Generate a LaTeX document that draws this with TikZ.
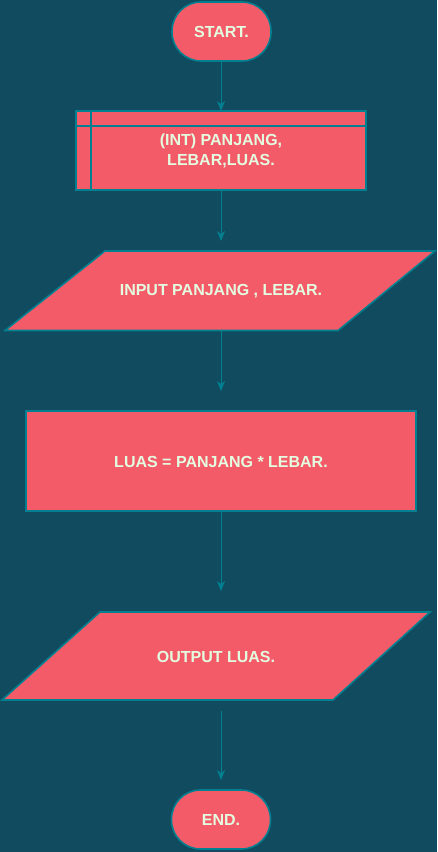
\documentclass[tikz,border=0pt]{standalone}
\usepackage{fontspec}
\setmainfont{Liberation Sans}
\usetikzlibrary{arrows.meta}
\definecolor{bg}{HTML}{114B5F}
\definecolor{boxfill}{HTML}{F45B69}
\definecolor{edge}{HTML}{028090}
\definecolor{txt}{HTML}{E4FDE1}
\tikzset{
  shapebox/.style={draw=edge,fill=boxfill,line width=1.6pt},
  label/.style={text=txt,font=\fontsize{16}{20}\selectfont\bfseries,align=center,inner sep=0pt},
  terminal/.style={shapebox,rectangle,rounded corners=29pt,minimum width=99pt,minimum height=59pt,inner sep=0pt},
  procbox/.style={shapebox,rectangle,inner sep=0pt},
  flow/.style={draw=edge,line width=1pt,-{Stealth[width=8pt,length=10pt,inset=3pt]}}
}
\begin{document}
\begin{tikzpicture}[x=1pt,y=-1pt]
\useasboundingbox[fill=bg] (0,0) rectangle (437,852);
% START
\node[terminal] (start) at (221.5,31.5) {};
\node[label] (starttxt) at (221.5,31.5) {START.};
% declaration (predefined process)
\node[procbox,minimum width=290pt,minimum height=79pt] (decl) at (221,150.5) {};
\draw[edge,line width=1.6pt] (91,111) -- (91,190);
\draw[edge,line width=1.6pt] (76,126) -- (366,126);
\node[label] (decltxt) at (221,151) {(INT) PANJANG,\\LEBAR,LUAS.};
% input parallelogram
\coordinate (in1) at (105,251);
\coordinate (in2) at (435,251);
\coordinate (in3) at (338,330.5);
\coordinate (in4) at (5,330.5);
\draw[shapebox] (in1) -- (in2) -- (in3) -- (in4) -- cycle;
\node[label] (input) at (221,291) {INPUT PANJANG , LEBAR.};
% process
\node[procbox,minimum width=390pt,minimum height=100pt] (proc) at (221,461) {};
\node[label] (proctxt) at (221,462) {LUAS = PANJANG * LEBAR.};
% output parallelogram
\coordinate (out1) at (100,612);
\coordinate (out2) at (430,612);
\coordinate (out3) at (333,700);
\coordinate (out4) at (2,700);
\draw[shapebox] (out1) -- (out2) -- (out3) -- (out4) -- cycle;
\node[label] (output) at (216,657) {OUTPUT LUAS.};
% END
\node[terminal] (end) at (221,819.5) {};
\node[label] (endtxt) at (221,819.5) {END.};
% connectors
\coordinate (a1s) at (221,61);  \coordinate (a1e) at (221,111);
\coordinate (a2s) at (221,191); \coordinate (a2e) at (221,241);
\coordinate (a3s) at (221,331); \coordinate (a3e) at (221,391);
\coordinate (a4s) at (221,511); \coordinate (a4e) at (221,591);
\coordinate (a5s) at (221,711); \coordinate (a5e) at (221,780);
\draw[flow] (a1s) -- (a1e);
\draw[flow] (a2s) -- (a2e);
\draw[flow] (a3s) -- (a3e);
\draw[flow] (a4s) -- (a4e);
\draw[flow] (a5s) -- (a5e);
\end{tikzpicture}
\end{document}
